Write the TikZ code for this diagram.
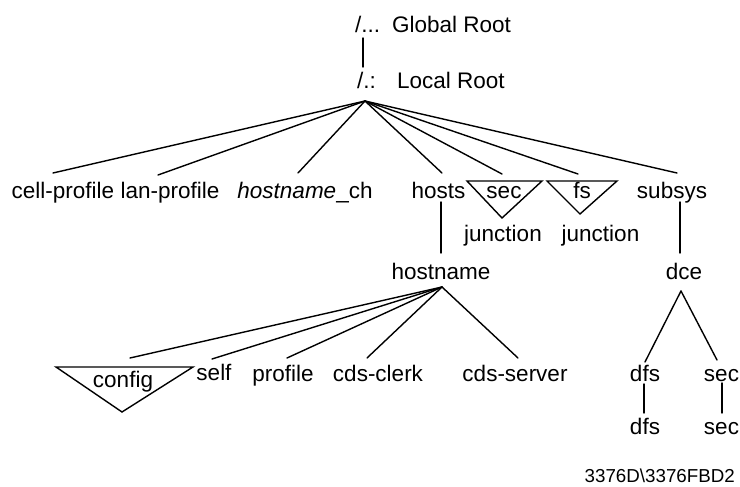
\documentclass[tikz,border=0pt]{standalone}
\usepackage{fontspec}
\setmainfont{Liberation Sans}
\usetikzlibrary{calc}
\tikzset{
  lbl/.style={inner sep=0pt, anchor=base, font=\fontsize{22.5}{27}\selectfont},
  lblw/.style={lbl, anchor=base west},
  conn/.style={line width=1.4pt, line cap=round, line join=miter},
}
\begin{document}
\begin{tikzpicture}[x=1pt,y=-1pt]
\useasboundingbox (0,0) rectangle (740,487);
% top
\node[lblw] (groot) at (355,33) {/...};
\node[lblw] (grootname) at (392,33) {Global Root};
\node[lblw] (lroot) at (357,89) {/.:};
\node[lblw] (lrootname) at (397,89) {Local Root};
\coordinate (lrp) at ($(lroot.base west)+(8,12)$);
\draw[conn] ($(groot.base west)+(8,5)$) -- ($(lroot.base west)+(6,-22)$);
% row 1
\node[lbl] (cell) at (63,198) {cell-profile};
\node[lbl] (lan) at (170,198) {lan-profile};
\node[lbl] (hch) at (305,198) {\textit{hostname}\_ch};
\node[lbl] (hosts) at (438.5,198) {hosts};
\node[lbl] (secj) at (504,198) {sec};
\node[lbl] (fsj) at (582,198) {fs};
\node[lbl] (subsys) at (672,198) {subsys};
\node[lbl] (junc1) at (503,241) {junction};
\node[lbl] (junc2) at (600.5,241) {junction};
\draw[conn] ($(secj.base)+(-37,-17)$) -- ($(secj.base)+(38,-17)$) -- ($(secj.base)+(-2,20)$) -- cycle;
\draw[conn] ($(fsj.base)+(-35,-17)$) -- ($(fsj.base)+(35,-17)$) -- ($(fsj.base)+(-2,16)$) -- cycle;
\draw[conn] (lrp) -- ($(cell.base)+(-10,-25)$);
\draw[conn] (lrp) -- ($(lan.base)+(-12,-23)$);
\draw[conn] (lrp) -- ($(hch.base)+(-7,-25)$);
\draw[conn] (lrp) -- ($(hosts.base)+(3.5,-25)$);
\draw[conn] (lrp) -- ($(secj.base)+(-2,-24)$);
\draw[conn] (lrp) -- ($(fsj.base)+(-4,-24)$);
\draw[conn] (lrp) -- ($(subsys.base)+(5,-25)$);
% row 2
\node[lbl] (hostname) at (441,279) {hostname};
\node[lbl] (dce) at (684,279) {dce};
\draw[conn] ($(hosts.base)+(2.5,4)$) -- ($(hostname.base)+(0,-26)$);
\draw[conn] ($(subsys.base)+(8,4)$) -- ($(dce.base)+(-4,-26)$);
\coordinate (hnp) at ($(hostname.base)+(1,8)$);
\coordinate (dcep) at ($(dce.base)+(-3,12)$);
% row 3
\node[lbl] (config) at (123,387) {config};
\node[lbl] (self) at (214,380) {self};
\node[lbl] (profile) at (283,381) {profile};
\node[lbl] (clerk) at (378,381) {cds-clerk};
\node[lbl] (server) at (515,381) {cds-server};
\node[lbl] (dfsa) at (645,381) {dfs};
\node[lbl] (seca) at (721.5,381) {sec};
\draw[conn] ($(config.base)+(-67,-20)$) -- ($(config.base)+(70,-20)$) -- ($(config.base)+(-1,25)$) -- cycle;
\draw[conn] (hnp) -- ($(config.base)+(7,-29)$);
\draw[conn] (hnp) -- ($(self.base)+(-2,-21)$);
\draw[conn] (hnp) -- ($(profile.base)+(4,-23)$);
\draw[conn] (hnp) -- ($(clerk.base)+(-11,-23)$);
\draw[conn] (hnp) -- ($(server.base)+(3,-23)$);
\draw[conn] (dcep) -- ($(dfsa.base)+(0,-19)$);
\draw[conn] (dcep) -- ($(seca.base)+(-4.5,-21)$);
% row 4
\node[lbl] (dfsb) at (645,434) {dfs};
\node[lbl] (secb) at (721.5,434) {sec};
\draw[conn] ($(dfsa.base)+(-1,3)$) -- ($(dfsb.base)+(-1,-21)$);
\draw[conn] ($(seca.base)+(0.5,2)$) -- ($(secb.base)+(0.5,-21)$);
% footer
\node[inner sep=0pt, anchor=base east, font=\fontsize{18.75}{22}\selectfont] (ref) at (735,482) {3376D\textbackslash 3376FBD2};
\end{tikzpicture}
\end{document}
